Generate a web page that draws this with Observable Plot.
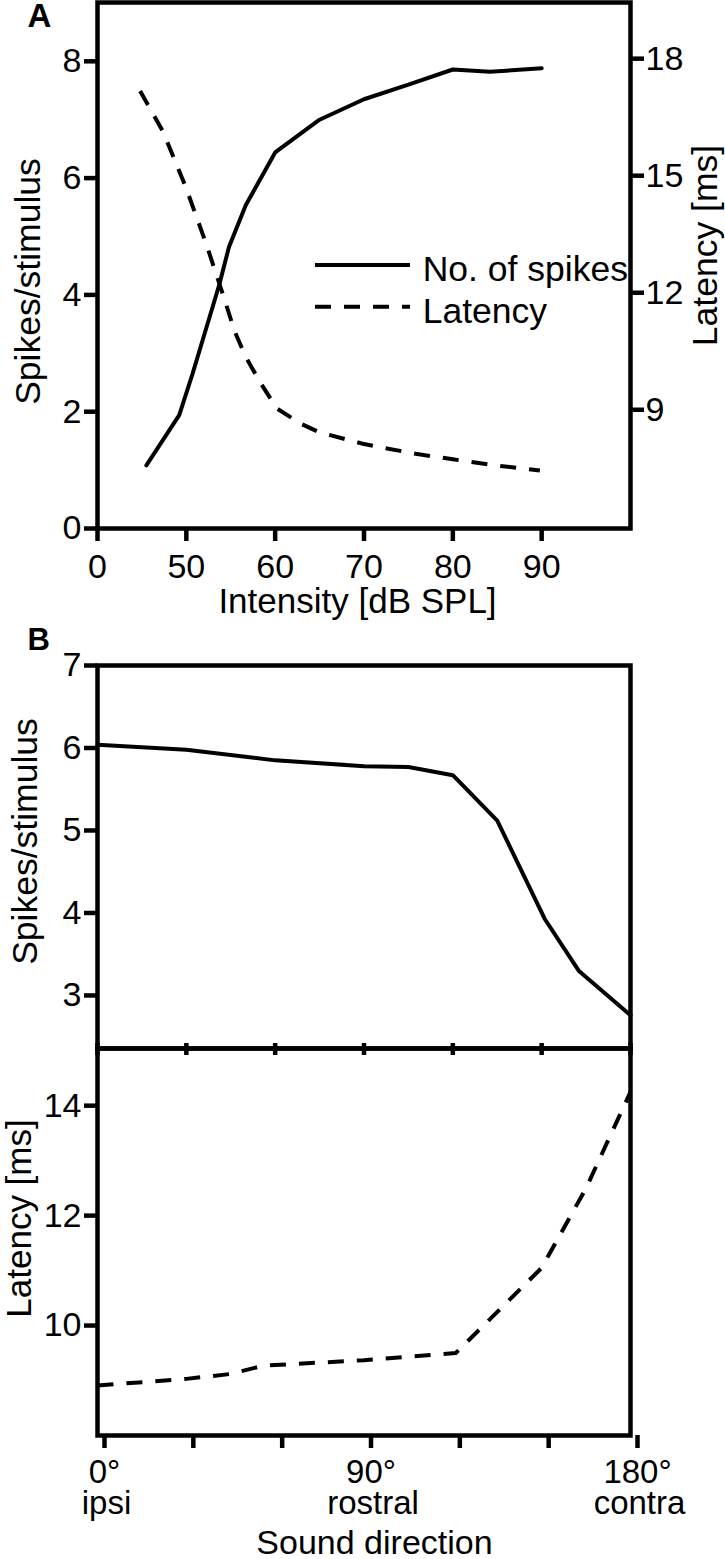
<!DOCTYPE html>
<html>
<head>
<meta charset="utf-8">
<script src="https://cdn.jsdelivr.net/npm/d3@7"></script>
<script src="https://cdn.jsdelivr.net/npm/@observablehq/plot@0.6"></script>
<style>
  body { margin: 0; background: #fff; }
  #root { position: relative; width: 725px; height: 1559px; background: #fff;
          font-family: "Liberation Sans", Arial, Helvetica, sans-serif; }
</style>
</head>
<body>
<div id="root"></div>
<script>
// ---------- Panel A data ----------
const intensityTicks = [40, 50, 60, 70, 80, 90];
const intensityTickLabels = ["0", "50", "60", "70", "80", "90"];
const spikeTicksA = [0, 2, 4, 6, 8];
const latencyTicksA = [9, 12, 15, 18];

const spikeIntensity = [45.5, 49.2, 50.7, 53.7, 54.8, 56.7, 60, 65, 70, 75, 80, 84.2, 90];
const spikeCount     = [1.08, 1.94, 2.65, 4.17, 4.82, 5.54, 6.44, 7.0, 7.35, 7.6, 7.86, 7.82, 7.88];

const latIntensity = [44.8, 47.4, 50, 52.3, 54.4, 55.4, 56.7, 58.4, 60.2, 62.9, 65, 70, 75.8, 80, 85, 89.8];
const latValueA    = [17.17, 16.12, 14.67, 13.21, 11.76, 11.03, 10.35, 9.67, 9.03, 8.64, 8.42, 8.12, 7.87, 7.73, 7.57, 7.44];

const legendLabels = ["No. of spikes", "Latency"];

// ---------- Panel B data ----------
const dirTicks = [0, 30, 60, 90, 120, 150, 180];
const dirTickLabels = ["0°", "", "", "90°", "", "", "180°"];
const dirTickNames  = ["ipsi", "", "", "rostral", "", "", "contra"];
const spikeTicksB = [3, 4, 5, 6, 7];
const latencyTicksB = [10, 12, 14];

const dirSpikeAngle = [0, 30, 60, 90, 105, 120, 135, 151, 162.5, 180];
const dirSpikeValue = [6.04, 5.98, 5.85, 5.78, 5.77, 5.67, 5.12, 3.93, 3.30, 2.76];

const dirLatAngle = [0, 30, 45, 56, 90, 121, 150, 165, 180];
const dirLatValue = [8.91, 9.03, 9.12, 9.27, 9.37, 9.5, 11.05, 12.5, 14.25];

// ---------- text ----------
const panelLabels = ["A", "B"];
const xLabelA = "Intensity [dB SPL]";
const yLabelSpikes = "Spikes/stimulus";
const yLabelLatency = "Latency [ms]";
const xLabelB = "Sound direction";

// ---------- build ----------
const root = document.getElementById("root");
const FONT = '"Liberation Sans", Arial, Helvetica, sans-serif';
const SW = 4.5;    // frame / tick stroke
const LW = 4;      // data line stroke
const DASH = "16,13";
const intFmt = d3.format("d");

function place(el, top, left = 0) {
  el.style.position = "absolute";
  el.style.top = top + "px";
  el.style.left = left + "px";
  root.appendChild(el);
}

const spikesA = spikeIntensity.map((x, i) => ({x, y: spikeCount[i]}));
const latA = latIntensity.map((x, i) => ({x, y: latValueA[i]}));
const spikesB = dirSpikeAngle.map((x, i) => ({x, y: dirSpikeValue[i]}));
const latB = dirLatAngle.map((x, i) => ({x, y: dirLatValue[i]}));

const intensityFmt = new Map(intensityTicks.map((t, i) => [t, intensityTickLabels[i]]));
const dirFmt = new Map(dirTicks.map((t, i) => [t, dirTickLabels[i]]));
const dirNameFmt = new Map(dirTicks.map((t, i) => [t, dirTickNames[i]]));

const styleBase = {fontFamily: FONT, fontSize: "34px", background: "transparent", overflow: "visible"};

// Panel A: spikes (left scale)
const plotA = Plot.plot({
  width: 725, height: 625,
  marginLeft: 97, marginRight: 95, marginTop: 2, marginBottom: 97,
  style: styleBase,
  x: {domain: [40, 100]},
  y: {domain: [0, 9.007]},
  marks: [
    Plot.frame({strokeWidth: SW}),
    Plot.axisX({ticks: intensityTicks, tickFormat: d => intensityFmt.get(d), tickSize: 13, tickPadding: 12, strokeWidth: SW, label: null, fontSize: 34}),
    Plot.axisY({ticks: spikeTicksA, tickFormat: intFmt, tickSize: 13, tickPadding: 3, strokeWidth: SW, label: null, fontSize: 34}),
    Plot.line(spikesA, {x: "x", y: "y", stroke: "black", strokeWidth: LW, strokeLinejoin: "miter"}),
    Plot.text([xLabelA], {text: d => d, frameAnchor: "bottom", textAnchor: "middle", lineAnchor: "top", dy: 60, dx: -6.5, fontSize: 35}),
    Plot.text([yLabelSpikes], {text: d => d, frameAnchor: "left", textAnchor: "middle", lineAnchor: "middle", rotate: -90, dx: -68.7, dy: 16, fontSize: 35.5}),
    Plot.text([panelLabels[0]], {text: d => d, frameAnchor: "top-left", textAnchor: "start", lineAnchor: "top", dx: -70, dy: 1, fontSize: 33, fontWeight: "bold"})
  ]
});
place(plotA, 0);

// Panel A: latency (right scale), overlaid
const plotA2 = Plot.plot({
  width: 725, height: 625,
  marginLeft: 97, marginRight: 95, marginTop: 2, marginBottom: 97,
  style: styleBase,
  x: {domain: [40, 100], axis: null},
  y: {domain: [5.956, 19.44]},
  marks: [
    Plot.axisY({anchor: "right", ticks: latencyTicksA, tickFormat: intFmt, tickSize: 13, tickPadding: 2, strokeWidth: SW, label: null, fontSize: 34}),
    Plot.line(latA, {x: "x", y: "y", stroke: "black", strokeWidth: LW, strokeDasharray: DASH, strokeLinecap: "butt"}),
    Plot.text([yLabelLatency], {text: d => d, frameAnchor: "right", textAnchor: "middle", lineAnchor: "middle", rotate: -90, dx: 74.8, dy: -20, fontSize: 35.5})
  ]
});
place(plotA2, 0);

// Legend for panel A
const leg = d3.create("svg").attr("width", 330).attr("height", 100)
  .style("font-family", FONT).style("overflow", "visible");
const legStyles = [null, DASH];
legendLabels.forEach((lab, i) => {
  const yy = i === 0 ? 25 : 66.7;
  leg.append("line").attr("x1", 5).attr("x2", 100).attr("y1", yy).attr("y2", yy)
    .attr("stroke", "black").attr("stroke-width", LW)
    .attr("stroke-dasharray", legStyles[i]);
  leg.append("text").attr("x", 112.7).attr("y", yy + 15.8)
    .attr("font-size", 35.5).attr("fill", "black").text(lab);
});
place(leg.node(), 240, 310);

// Panel B top: spikes vs direction
const plotB1 = Plot.plot({
  width: 725, height: 440,
  marginLeft: 97, marginRight: 95, marginTop: 45, marginBottom: 12,
  style: styleBase,
  x: {domain: [0, 180]},
  y: {domain: [2.357, 7]},
  marks: [
    Plot.frame({strokeWidth: SW}),
    Plot.axisX({ticks: dirTicks, tickFormat: () => "", tickSize: 7, strokeWidth: SW, label: null}),
    Plot.axisY({ticks: spikeTicksB, tickFormat: intFmt, tickSize: 13, tickPadding: 3, strokeWidth: SW, label: null, fontSize: 34}),
    Plot.line(spikesB, {x: "x", y: "y", stroke: "black", strokeWidth: LW, strokeLinejoin: "miter"}),
    Plot.text([yLabelSpikes], {text: d => d, frameAnchor: "left", textAnchor: "middle", lineAnchor: "middle", rotate: -90, dx: -71.5, dy: -15.5, fontSize: 35.5}),
    Plot.text([panelLabels[1]], {text: d => d, frameAnchor: "top-left", textAnchor: "start", lineAnchor: "top", dx: -70, dy: -38, fontSize: 31, fontWeight: "bold"})
  ]
});
place(plotB1, 620);

// Panel B bottom: latency vs direction
const plotB2 = Plot.plot({
  width: 725, height: 523,
  marginLeft: 97, marginRight: 95, marginTop: 12, marginBottom: 124,
  style: styleBase,
  x: {domain: [0, 180]},
  y: {domain: [8, 15.04]},
  marks: [
    Plot.frame({strokeWidth: SW}),
    Plot.axisX({anchor: "top", ticks: dirTicks, tickFormat: () => "", tickSize: 6, strokeWidth: SW, label: null}),
    Plot.axisX({ticks: dirTicks, tickFormat: d => dirFmt.get(d), tickSize: 13, tickPadding: 11, dx: 7, strokeWidth: SW, label: null, fontSize: 33}),
    Plot.axisX({ticks: dirTicks, tickFormat: d => dirNameFmt.get(d), tickSize: 0, tickPadding: 55.5, dx: 9, label: null, fontSize: 33}),
    Plot.axisY({ticks: latencyTicksB, tickFormat: intFmt, tickSize: 13, tickPadding: 3, strokeWidth: SW, label: null, fontSize: 34}),
    Plot.line(latB, {x: "x", y: "y", stroke: "black", strokeWidth: LW, strokeDasharray: DASH, strokeLinecap: "butt"}),
    Plot.text([yLabelLatency], {text: d => d, frameAnchor: "left", textAnchor: "middle", lineAnchor: "middle", rotate: -90, dx: -78, dy: -23.5, fontSize: 35}),
    Plot.text([xLabelB], {text: d => d, frameAnchor: "bottom", textAnchor: "middle", lineAnchor: "top", dy: 94, dx: 10.5, fontSize: 34})
  ]
});
place(plotB2, 1036);
</script>
</body>
</html>
